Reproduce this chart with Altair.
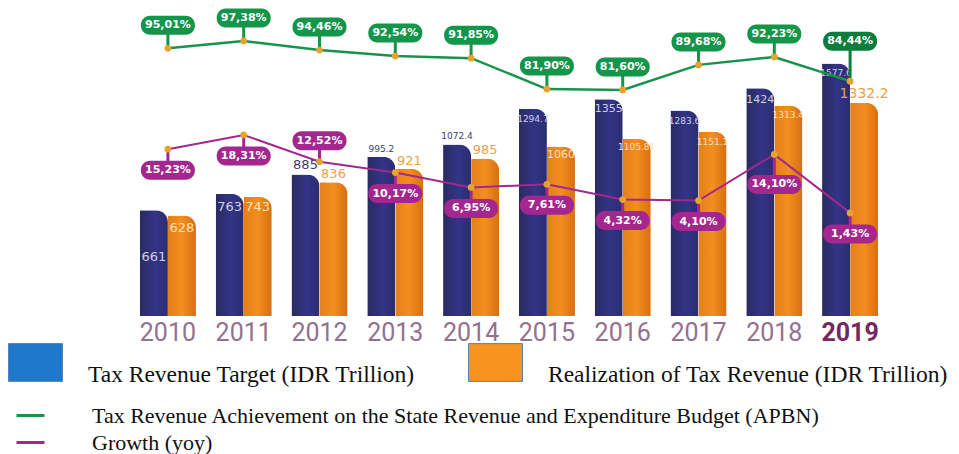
import altair as alt
import pandas as pd

# ---------------- data ----------------
years = ["2010", "2011", "2012", "2013", "2014", "2015", "2016", "2017", "2018", "2019"]
target = [661, 763, 885, 995.2, 1072.4, 1294.7, 1355, 1283.6, 1424, 1577.6]
target_labels = ["661", "763", "885", "995.2", "1072.4", "1294.7", "1355", "1283.6", "1424", "1577.6"]
realization = [628, 743, 836, 921, 985, 1060, 1105.81, 1151.1, 1313.4, 1332.2]
real_labels = ["628", "743", "836", "921", "985", "1060", "1105.81", "1151.1", "1313.4", "1332.2"]
achievement = [95.01, 97.38, 94.46, 92.54, 91.85, 81.90, 81.60, 89.68, 92.23, 84.44]
achievement_labels = ["95,01%", "97,38%", "94,46%", "92,54%", "91,85%", "81,90%", "81,60%", "89,68%", "92,23%", "84,44%"]
growth = [15.23, 18.31, 12.52, 10.17, 6.95, 7.61, 4.32, 4.10, 14.10, 1.43]
growth_labels = ["15,23%", "18,31%", "12,52%", "10,17%", "6,95%", "7,61%", "4,32%", "4,10%", "14,10%", "1,43%"]

T_NAME = "Tax Revenue Target (IDR Trillion)"
R_NAME = "Realization of Tax Revenue (IDR Trillion)"
A_NAME = "Tax Revenue Achievement on the State Revenue and Expenditure Budget (APBN)"
G_NAME = "Growth (yoy)"

# ---------------- layout / style ----------------
W, H = 758, 308
BAR_DOM = [0, 1925]
ACH_DOM = [8.8, 108.0]
GRO_DOM = [-20.9, 45.8]


def k(dom):
    return H / (dom[1] - dom[0])


# label offsets in pixels (positive = upwards from the bar top)
t_off = {"2010": -47, "2011": -13, "2012": 9, "2013": 8, "2014": 8,
         "2015": -10, "2016": -10, "2017": -10, "2018": -12, "2019": -9}
r_off = {"2010": -12, "2011": -10, "2012": 8, "2013": 8, "2014": 8,
         "2015": -9, "2016": -8, "2017": -10, "2018": -9, "2019": 9}
ach_off = {y: 23 for y in years}
ach_off["2019"] = 40
gro_off = {y: -21 for y in years}
gro_off["2012"] = 21
gro_off["2018"] = -30


def lsize(lbl, yr, series):
    if series == "R" and yr == "2019":
        return 14
    if len(lbl) <= 3:
        return 13
    if len(lbl) == 4:
        return 11
    return 9


rows = []
for i, yr in enumerate(years):
    for ser, vals, labs, off, c_in, c_out in (
        ("T", target, target_labels, t_off, "#cfcfee", "#3d3d6e"),
        ("R", realization, real_labels, r_off, "#ffe2b8", "#f0a040"),
    ):
        o = off[yr]
        rows.append({
            "year": yr,
            "series": T_NAME if ser == "T" else R_NAME,
            "ser": ser,
            "value": vals[i],
            "label": labs[i],
            "ly": vals[i] + o / k(BAR_DOM),
            "lc": c_out if o > 0 else c_in,
            "fs": lsize(labs[i], yr, ser),
        })
bars = pd.DataFrame(rows)

ach = pd.DataFrame({"year": years, "v": achievement, "label": achievement_labels, "series": A_NAME})
ach["c"] = [v + ach_off[y] / k(ACH_DOM) for v, y in zip(achievement, years)]
ach["lo"] = ach["c"] - 9.5 / k(ACH_DOM)
ach["hi"] = ach["c"] + 9.5 / k(ACH_DOM)
ach["bc"] = ["#0c7d3c" if y == "2019" else "#13954a" for y in years]

gro = pd.DataFrame({"year": years, "v": growth, "label": growth_labels, "series": G_NAME})
gro["c"] = [v + gro_off[y] / k(GRO_DOM) for v, y in zip(growth, years)]
gro["lo"] = gro["c"] - 9.5 / k(GRO_DOM)
gro["hi"] = gro["c"] + 9.5 / k(GRO_DOM)

# ---------------- encodings ----------------
x_enc = alt.X(
    "year:N", sort=years,
    scale=alt.Scale(paddingInner=0.26, paddingOuter=0.13),
    axis=alt.Axis(
        title=None, domain=False, ticks=False, grid=False, labelAngle=0,
        labelPadding=4, labelFont="Roboto", labelFontSize=25, labelBaseline="top",
        labelColor=alt.ExprRef("datum.value == '2019' ? '#76285f' : '#93718f'"),
        labelFontWeight=alt.ExprRef("datum.value == '2019' ? 'bold' : 'normal'"),
    ),
)
xoff = alt.XOffset("series:N", scale=alt.Scale(domain=[T_NAME, R_NAME], paddingInner=0, paddingOuter=0))
y_bar = alt.Y("value:Q", scale=alt.Scale(domain=BAR_DOM), axis=None)

navy = alt.Gradient(gradient="linear", x1=0, x2=1, y1=0, y2=0, stops=[
    alt.GradientStop(offset=0, color="#2a2b62"),
    alt.GradientStop(offset=0.55, color="#323586"),
    alt.GradientStop(offset=1, color="#2b2d70")])
orange = alt.Gradient(gradient="linear", x1=0, x2=1, y1=0, y2=0, stops=[
    alt.GradientStop(offset=0, color="#e47f18"),
    alt.GradientStop(offset=0.5, color="#f38e20"),
    alt.GradientStop(offset=1, color="#d66f10")])

base_bars = alt.Chart(bars)
t_bars = base_bars.transform_filter(alt.datum.ser == "T").mark_bar(
    color=navy, cornerRadiusTopRight=12).encode(x=x_enc, xOffset=xoff, y=y_bar)
r_bars = base_bars.transform_filter(alt.datum.ser == "R").mark_bar(
    color=orange, cornerRadiusTopRight=12).encode(x=x_enc, xOffset=xoff, y=y_bar)

lab_enc = dict(
    x=x_enc,
    y=alt.Y("ly:Q", scale=alt.Scale(domain=BAR_DOM), axis=None),
    text="label:N",
    color=alt.Color("lc:N", scale=None),
    size=alt.Size("fs:Q", scale=None),
)
t_labels = base_bars.transform_filter(alt.datum.ser == "T").mark_text(
    font="DejaVu Sans", dx=-14, baseline="middle").encode(**lab_enc)
r_labels = base_bars.transform_filter(alt.datum.ser == "R").mark_text(
    font="DejaVu Sans", dx=14, baseline="middle").encode(**lab_enc)

fill_legend = base_bars.mark_point(filled=True, opacity=0, size=1).encode(
    x=x_enc, y=y_bar,
    fill=alt.Fill("series:N", scale=alt.Scale(domain=[T_NAME, R_NAME], range=["#1f78cb", "#f7931e"]),
                  legend=alt.Legend(
                      title=None, orient="none", legendX=-122, legendY=327,
                      direction="horizontal", columns=2, columnPadding=51,
                      symbolType="M-1,-0.7H1V0.7H-1Z", symbolSize=2916, symbolOpacity=1,
                      symbolStrokeColor="#5a7fb8", symbolStrokeWidth=1,
                      labelFont="Liberation Serif", labelFontSize=23.5, labelColor="#111111",
                      labelOffset=25, labelBaseline="top", labelLimit=0, padding=0)),
)

stroke_scale = alt.Scale(domain=[A_NAME, G_NAME], range=["#17934b", "#a3278f"])
stroke_legend = alt.Legend(
    title=None, orient="none", legendX=-115, legendY=392, direction="vertical",
    symbolType="M-1,0H1", symbolSize=784, symbolStrokeWidth=3,
    labelFont="Liberation Serif", labelFontSize=22, labelColor="#111111",
    labelOffset=46, labelLimit=0, padding=0, rowPadding=-1)


def line_group(df, dom, width, box_color_field, box_color):
    ys = alt.Scale(domain=dom, zero=False)
    base = alt.Chart(df)
    line = base.mark_line(strokeWidth=width).encode(
        x=x_enc, y=alt.Y("v:Q", scale=ys, axis=None),
        stroke=alt.Stroke("series:N", scale=stroke_scale, legend=stroke_legend))
    if box_color_field:
        col = alt.Color(box_color_field, scale=None)
        rule = base.mark_rule(strokeWidth=3).encode(
            x=x_enc, y=alt.Y("v:Q", scale=ys, axis=None), y2="c:Q", color=col)
        box = base.mark_bar(width=54, cornerRadius=9).encode(
            x=x_enc, y=alt.Y("lo:Q", scale=ys, axis=None), y2="hi:Q", color=col)
    else:
        rule = base.mark_rule(strokeWidth=3, color=box_color).encode(
            x=x_enc, y=alt.Y("v:Q", scale=ys, axis=None), y2="c:Q")
        box = base.mark_bar(width=54, cornerRadius=9, color=box_color).encode(
            x=x_enc, y=alt.Y("lo:Q", scale=ys, axis=None), y2="hi:Q")
    txt = base.mark_text(font="DejaVu Sans", fontWeight="bold", fontSize=11,
                         color="white", baseline="middle").encode(
        x=x_enc, y=alt.Y("c:Q", scale=ys, axis=None), text="label:N")
    pts = base.mark_circle(size=45, color="#e3a52e", opacity=1).encode(
        x=x_enc, y=alt.Y("v:Q", scale=ys, axis=None))
    return [line, rule, box, txt, pts]


ach_layers = line_group(ach, ACH_DOM, 2.5, "bc:N", None)
gro_layers = line_group(gro, GRO_DOM, 2, None, "#a3278f")

chart = alt.layer(
    t_bars, r_bars, t_labels, r_labels, fill_legend,
    gro_layers[0], ach_layers[0],
    gro_layers[1], ach_layers[1],
    gro_layers[2], ach_layers[2],
    gro_layers[3], ach_layers[3],
    gro_layers[4], ach_layers[4],
).resolve_scale(y="independent").properties(
    width=W, height=H,
    padding={"left": 122, "top": 0, "right": 63, "bottom": 150},
    autosize=alt.AutoSizeParams(type="none"),
    background="white",
).configure_view(stroke=None)

chart.save("out.html", embed_options={"renderer": "svg", "actions": False})
